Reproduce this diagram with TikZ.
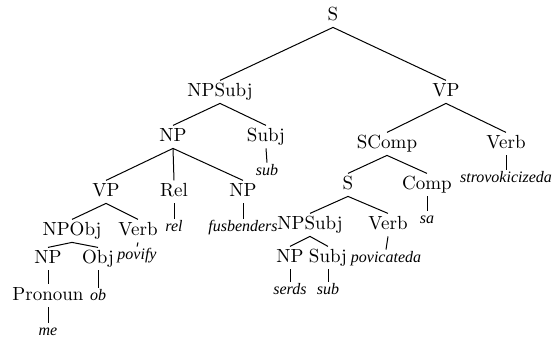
\documentclass[tikz,border=0pt]{standalone}
\usepackage{fontspec}
\newfontfamily\leaffont{Liberation Serif}
\begin{document}
\begin{tikzpicture}[x=0.5pt,y=-0.5pt,
  cat/.style={font=\fontsize{9.5}{11}\selectfont, inner xsep=1pt, inner ysep=1pt,
              text height=6.6pt, text depth=2.5pt, anchor=base},
  leaf/.style={font=\leaffont\itshape\fontsize{8}{10}\selectfont, inner xsep=1pt,
               inner ysep=0.5pt, text height=5.5pt, text depth=1.5pt, anchor=base},
  branch/.style={line width=0.5pt}]
\useasboundingbox (0,0) rectangle (557,343);

% category nodes (x = centre, y = baseline)
\node[cat] (s0)      at (333,20)  {S};
\node[cat] (npsubj)  at (220,96)  {NPSubj};
\node[cat] (vp)      at (446,96)  {VP};
\node[cat] (np1)     at (173,141) {NP};
\node[cat] (subj1)   at (266,141) {Subj};
\node[cat] (scomp)   at (387,148) {SComp};
\node[cat] (verb1)   at (506,148) {Verb};
\node[cat] (vp2)     at (106,196) {VP};
\node[cat] (rel)     at (174,196) {Rel};
\node[cat] (np2)     at (243,196) {NP};
\node[cat] (s2)      at (348,189) {S};
\node[cat] (comp)    at (427,189) {Comp};
\node[cat] (npobj)   at (72,235)  {NPObj};
\node[cat] (verb2)   at (138,235) {Verb};
\node[cat] (npsubj2) at (310,229) {NPSubj};
\node[cat] (verb3)   at (388,229) {Verb};
\node[cat] (np3)     at (48,263)  {NP};
\node[cat] (obj)     at (98,263)  {Obj};
\node[cat] (np4)     at (290,262) {NP};
\node[cat] (subj2)   at (328,262) {Subj};
\node[cat] (pron)    at (48,300)  {Pronoun};

% leaf words
\node[leaf] (wsub1)  at (267,175) {sub};
\node[leaf] (wstrov) at (506,182) {strovokicizeda};
\node[leaf] (wrel)   at (174,231) {rel};
\node[leaf] (wfus)   at (243,231) {fusbenders};
\node[leaf] (wsa)    at (427,223) {sa};
\node[leaf] (wpovif) at (137,259) {povify};
\node[leaf] (wpovic) at (386,262) {povicateda};
\node[leaf] (wob)    at (98,300)  {ob};
\node[leaf] (wme)    at (48,335)  {me};
\node[leaf] (wserds) at (290,294) {serds};
\node[leaf] (wsub2)  at (328,294) {sub};

% branches
\foreach \p/\c in {s0/npsubj, s0/vp,
                   npsubj/np1, npsubj/subj1,
                   vp/scomp, vp/verb1,
                   np1/vp2, np1/rel, np1/np2,
                   scomp/s2, scomp/comp,
                   vp2/npobj, vp2/verb2,
                   s2/npsubj2, s2/verb3,
                   npobj/np3, npobj/obj,
                   npsubj2/np4, npsubj2/subj2,
                   np3/pron,
                   subj1/wsub1, verb1/wstrov, rel/wrel, np2/wfus,
                   comp/wsa, verb2/wpovif, verb3/wpovic, obj/wob,
                   pron/wme, np4/wserds, subj2/wsub2}
  \draw[branch] (\p.south) -- (\c.north);
\end{tikzpicture}
\end{document}
